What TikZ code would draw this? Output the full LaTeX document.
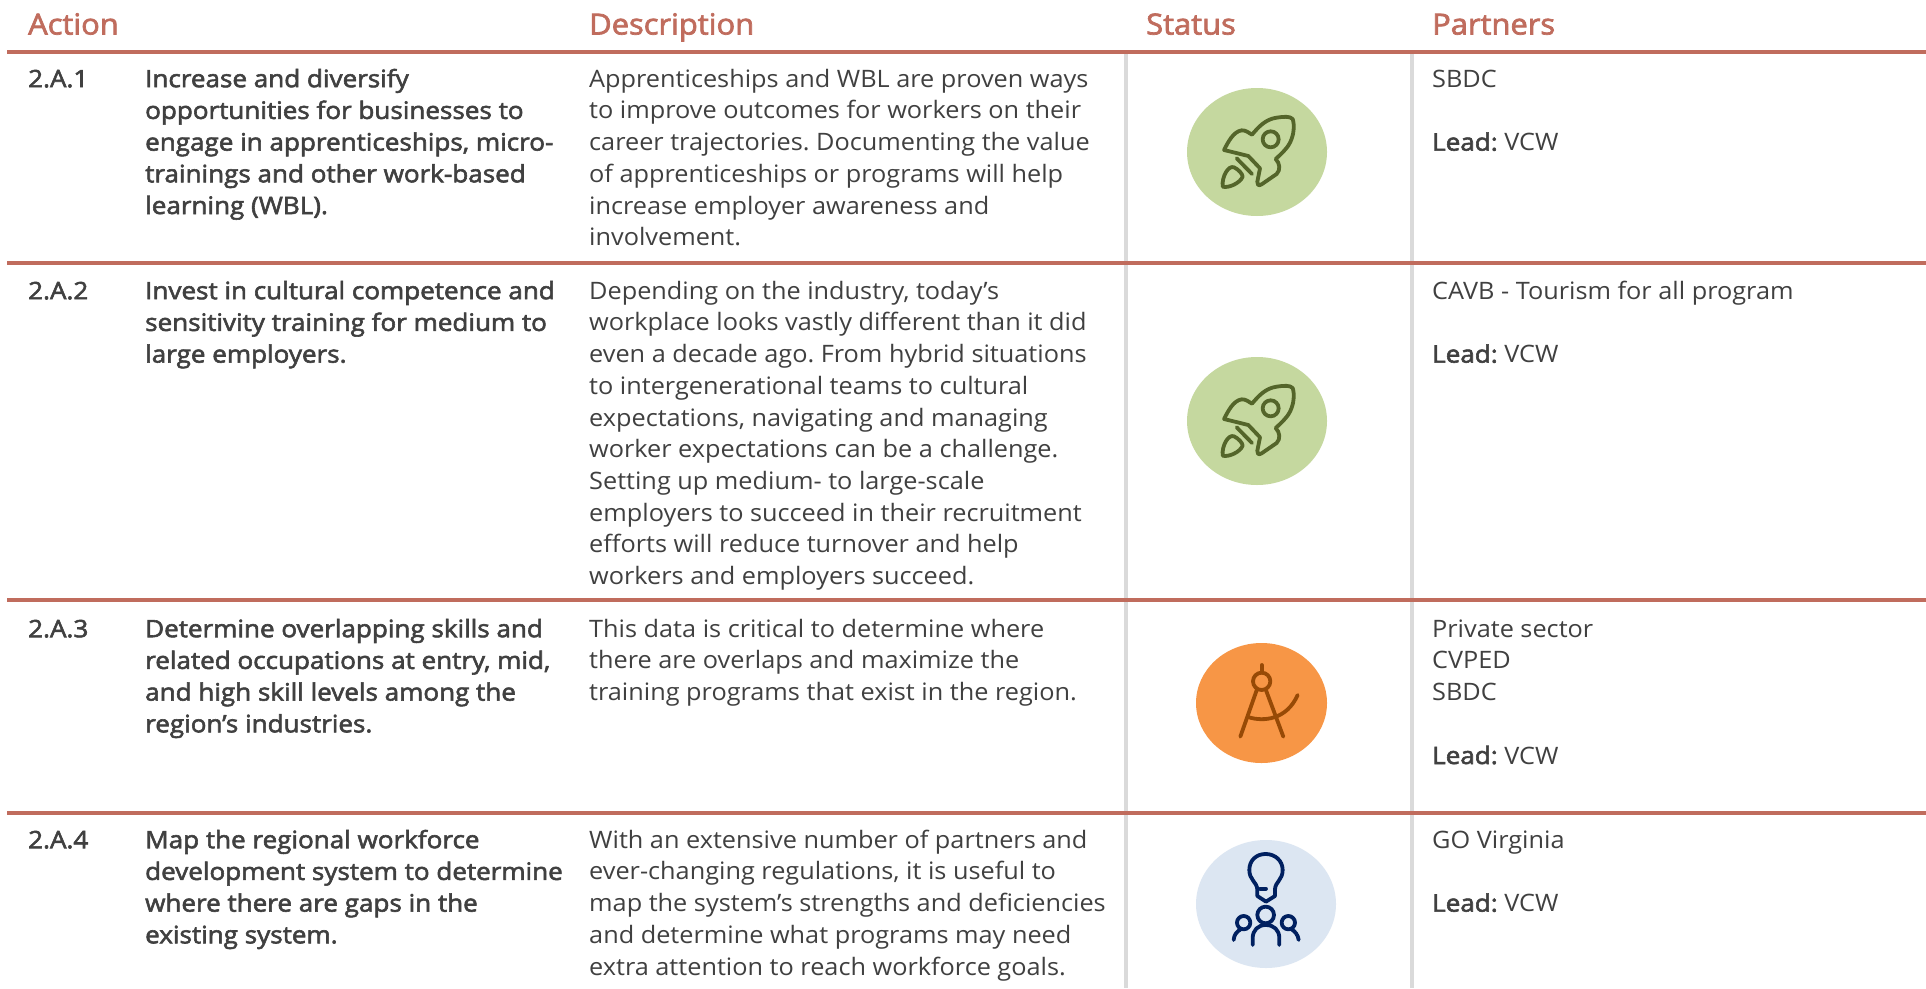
\documentclass[tikz,border=0pt]{standalone}
\usepackage{fontspec}
\setmainfont[FakeStretch=1.053]{Open Sans}
\newfontfamily\semi[FakeBold=2.4,FakeStretch=1.085]{Open Sans}
\newfontfamily\semihead[FakeBold=2.4,FakeStretch=1.065]{Open Sans}
\frenchspacing
\definecolor{rust}{HTML}{C06C5D}
\definecolor{ink}{HTML}{404040}
\definecolor{grayrule}{HTML}{DADADA}
\definecolor{leafbg}{HTML}{C5D89F}
\definecolor{leaf}{HTML}{54652A}
\definecolor{orangebg}{HTML}{F79646}
\definecolor{orangedk}{HTML}{974A06}
\definecolor{bluebg}{HTML}{DCE6F2}
\definecolor{navy}{HTML}{002060}
\newcommand\T{\rule{0pt}{24pt}}
\tikzset{
  x=1pt,y=-1pt,
  txt/.style={anchor=north west,inner sep=0pt,align=left,text=ink,font=\fontsize{24}{31.7}\selectfont},
  bold/.style={txt,font=\fontsize{24}{31.7}\selectfont\semi},
  head/.style={anchor=base west,inner sep=0pt,text=rust,font=\fontsize{29}{34}\selectfont\semihead},
  hrule/.style={draw=rust,line width=4pt},
  vrule/.style={draw=grayrule,line width=4.5pt},
  icon/.style={line width=3.8pt,line cap=round,line join=round,fill=none}
}
\newcommand\rocket[2]{%
\fill[leafbg] (#1,#2) ellipse [x radius=70,y radius=64];
\begin{scope}[shift={(#1-157,#2-102)},x=0.3333pt,y=-0.3333pt,icon,draw=leaf]
\draw (372,300) .. controls (385,275) and (400,245) .. (425,241) .. controls (438,240) and (448,250) .. (456,254)
 .. controls (475,232) and (495,208) .. (530,203) .. controls (550,200) and (570,198) .. (578,207)
 .. controls (584,225) and (582,255) .. (570,278) .. controls (560,298) and (540,315) .. (527,327)
 .. controls (540,340) and (542,360) .. (530,372) -- (485,403) .. controls (475,410) and (470,402) .. (472,395)
 -- (480,355) -- (445,318) -- cycle;
\draw (512,268) circle [radius=24];
\draw (410,325) -- (456,372);
\draw (368,410) .. controls (365,380) and (385,345) .. (402,352) .. controls (415,358) and (428,372) .. (428,380)
 .. controls (420,400) and (385,415) .. (368,410) -- cycle;
\end{scope}}
\begin{document}
\begin{tikzpicture}
\useasboundingbox (0,0) rectangle (1926,988);
\fill[white] (0,0) rectangle (1926,988);
% grid
\draw[vrule] (1126,52) -- (1126,988);
\draw[vrule] (1412,52) -- (1412,988);
\draw[hrule] (7,52) -- (1926,52);
\draw[hrule] (7,263) -- (1926,263);
\draw[hrule] (7,600) -- (1926,600);
\draw[hrule] (7,813) -- (1926,813);
% header
\node[head] (hA) at (28,34.5) {Action};
\node[head] (hD) at (589,34.5) {Description};
\node[head] (hS) at (1146,34.5) {Status};
\node[head] (hP) at (1432,34.5) {Partners};
% row 1
\node[bold] (n1) at (28,63) {\T 2.A.1};
\node[bold] (a1) at (145,63) {\T Increase and diversify\\opportunities for businesses to\\engage in apprenticeships, micro-\\trainings and other work-based\\learning (WBL).};
\node[txt] (d1) at (589,63) {\T Apprenticeships and WBL are proven ways\\to improve outcomes for workers on their\\career trajectories. Documenting the value\\of apprenticeships or programs will help\\increase employer awareness and\\involvement.};
\node[txt] (p1) at (1432,63) {\T SBDC\\[31.7pt]{\semi Lead:} VCW};
% row 2
\node[bold] (n2) at (28,275) {\T 2.A.2};
\node[bold] (a2) at (145,275) {\T Invest in cultural competence and\\sensitivity training for medium to\\large employers.};
\node[txt] (d2) at (589,275) {\T Depending on the industry, today’s\\workplace looks vastly different than it did\\even a decade ago. From hybrid situations\\to intergenerational teams to cultural\\expectations, navigating and managing\\worker expectations can be a challenge.\\Setting up medium- to large-scale\\employers to succeed in their recruitment\\efforts will reduce turnover and help\\workers and employers succeed.};
\node[txt] (p2) at (1432,275) {\T CAVB - Tourism for all program\\[31.7pt]{\semi Lead:} VCW};
% row 3
\node[bold] (n3) at (28,613) {\T 2.A.3};
\node[bold] (a3) at (145,613) {\T Determine overlapping skills and\\related occupations at entry, mid,\\and high skill levels among the\\region’s industries.};
\node[txt] (d3) at (589,613) {\T This data is critical to determine where\\there are overlaps and maximize the\\training programs that exist in the region.};
\node[txt] (p3) at (1432,613) {\T Private sector\\CVPED\\SBDC\\[31.7pt]{\semi Lead:} VCW};
% row 4
\node[bold] (n4) at (28,824) {\T 2.A.4};
\node[bold] (a4) at (145,824) {\T Map the regional workforce\\development system to determine\\where there are gaps in the\\existing system.};
\node[txt] (d4) at (589,824) {\T With an extensive number of partners and\\ever-changing regulations, it is useful to\\map the system’s strengths and deficiencies\\and determine what programs may need\\extra attention to reach workforce goals.};
\node[txt] (p4) at (1432,824) {\T GO Virginia\\[31.7pt]{\semi Lead:} VCW};
% icons
\rocket{1257}{152}
\rocket{1257}{421}
\fill[orangebg] (1261.5,703) ellipse [x radius=65.5,y radius=60];
\begin{scope}[shift={(1100,620)},x=0.3333pt,y=-0.3333pt,icon,draw=orangedk]
\draw (485,184) circle [radius=26];
\draw (485,135) -- (485,158);
\draw (471,208) -- (421,350);
\draw (497,208) -- (550,350);
\draw (447,292) .. controls (490,305) and (560,300) .. (593,225);
\end{scope}
\fill[bluebg] (1266,904) ellipse [x radius=70,y radius=64];
\begin{scope}[shift={(1100,620)},x=0.3333pt,y=-0.3333pt,icon,draw=navy]
\draw (472,828) -- (472,808) .. controls (470,785) and (448,780) .. (448,750) .. controls (448,720) and (470,702) .. (497,702)
 .. controls (525,702) and (548,722) .. (548,750) .. controls (548,780) and (526,785) .. (525,808) -- (525,828) -- (498,845) -- cycle;
\draw (480,806) -- (498,806);
\draw (497,885) circle [radius=25];
\draw (458,975) -- (458,955) .. controls (458,930) and (475,915) .. (497,915) .. controls (522,915) and (538,930) .. (538,955) -- (538,975);
\draw (431,908) circle [radius=20];
\draw (401,960) .. controls (402,945) and (410,935) .. (422,928);
\draw (565,908) circle [radius=20];
\draw (596,960) .. controls (594,945) and (586,935) .. (575,928);
\end{scope}
\end{tikzpicture}
\end{document}
